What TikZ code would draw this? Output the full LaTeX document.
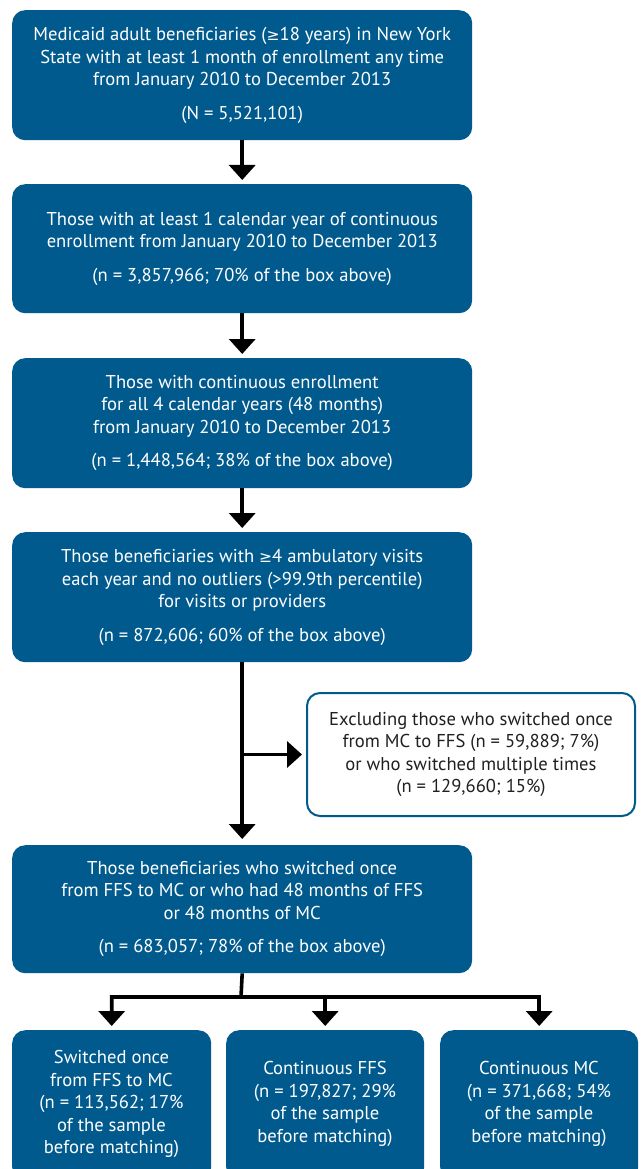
\documentclass[tikz,border=0pt]{standalone}
\usepackage{fontspec}
\setmainfont{PT Sans}
\newfontfamily\dvs{DejaVu Sans}
\usetikzlibrary{arrows.meta,positioning}
\definecolor{boxblue}{HTML}{005A8D}
\definecolor{txtdark}{HTML}{231F20}
\newcommand{\boxfont}{\fontsize{18.6}{22.5}\selectfont}
\newcommand{\mygeq}{{\dvs\fontsize{15.5}{22.5}\selectfont ≥}}
\tikzset{
  bluebox/.style={draw=none, fill=boxblue, rounded corners=13pt, text=white, align=center,
    font=\boxfont, inner sep=0pt},
  whitebox/.style={draw=boxblue, line width=2pt, fill=white, rounded corners=13pt, text=txtdark, align=center,
    font=\boxfont, inner sep=0pt},
  boxtext/.style={text=white, align=center, font=\boxfont, anchor=center, inner sep=0pt},
  arr/.style={line width=3.6pt, -{Triangle[width=26pt,length=15pt]}, shorten >=4pt, line join=miter},
}
\begin{document}
\begin{tikzpicture}[x=1pt,y=-1pt]
\clip (0,0) rectangle (641,1169);
\fill[white] (0,0) rectangle (641,1169);
% main column
\node[bluebox, minimum width=460pt, minimum height=130pt, anchor=north west] (b1) at (12,10)
 {Medicaid adult beneficiaries (\mygeq18 years) in New York\\
  State with at least 1 month of enrollment any time\\
  from January 2010 to December 2013\\[11pt]
  (N = 5,521,101)};
\node[bluebox, minimum width=460pt, minimum height=129pt, anchor=north west] (b2) at (12,184)
 {Those with at least 1 calendar year of continuous\\
  enrollment from January 2010 to December 2013\\[11pt]
  (n = 3,857,966; 70\% of the box above)};
\node[bluebox, minimum width=460pt, minimum height=130pt, anchor=north west] (b3) at (12,358)
 {Those with continuous enrollment\\
  for all 4 calendar years (48 months)\\
  from January 2010 to December 2013\\[11pt]
  (n = 1,448,564; 38\% of the box above)};
\node[bluebox, minimum width=460pt, minimum height=130pt, anchor=north west] (b4) at (12,532)
 {Those beneficiaries with \mygeq4 ambulatory visits\\
  each year and no outliers (>99.9th percentile)\\
  for visits or providers\\[11pt]
  (n = 872,606; 60\% of the box above)};
\node[whitebox, minimum width=328pt, minimum height=123pt, anchor=north west] (ex) at (306,692)
 {Excluding those who switched once\\
  from MC to FFS (n = 59,889; 7\%)\\
  or who switched multiple times\\
  (n = 129,660; 15\%)};
\node[bluebox, minimum width=460pt, minimum height=128pt, anchor=north west] (b5) at (12,845)
 {Those beneficiaries who switched once\\
  from FFS to MC or who had 48 months of FFS\\
  or 48 months of MC\\[11pt]
  (n = 683,057; 78\% of the box above)};
% bottom row
\node[bluebox, minimum width=199pt, minimum height=150pt, anchor=north west] (bA) at (12,1030) {};
\node[boxtext] (tA) at (111.5,1104)
 {Switched once\\ from FFS to MC\\ (n = 113,562; 17\%\\ of the sample\\ before matching)};
\node[bluebox, minimum width=198pt, minimum height=150pt, anchor=north west] (bB) at (226,1030) {};
\node[boxtext] (tB) at (325,1104)
 {Continuous FFS\\ (n = 197,827; 29\%\\ of the sample\\ before matching)};
\node[bluebox, minimum width=198pt, minimum height=150pt, anchor=north west] (bC) at (440,1030) {};
\node[boxtext] (tC) at (539,1104)
 {Continuous MC\\ (n = 371,668; 54\%\\ of the sample\\ before matching)};
% connectors
\draw[arr] (b1.south) -- (b2.north);
\draw[arr] (b2.south) -- (b3.north);
\draw[arr] (b3.south) -- (b4.north);
\draw[arr, shorten >=6pt] (b4.south) -- (b5.north);
\coordinate (side) at (b4.south |- ex.west);
\draw[arr] (side) -- (ex.west);
\coordinate (split) at (241,997);
\draw[arr] (b5.south) -- (split) -| (bA.north);
\draw[arr] (split) -| (bB.north);
\draw[arr] (split) -| (bC.north);
\end{tikzpicture}
\end{document}
